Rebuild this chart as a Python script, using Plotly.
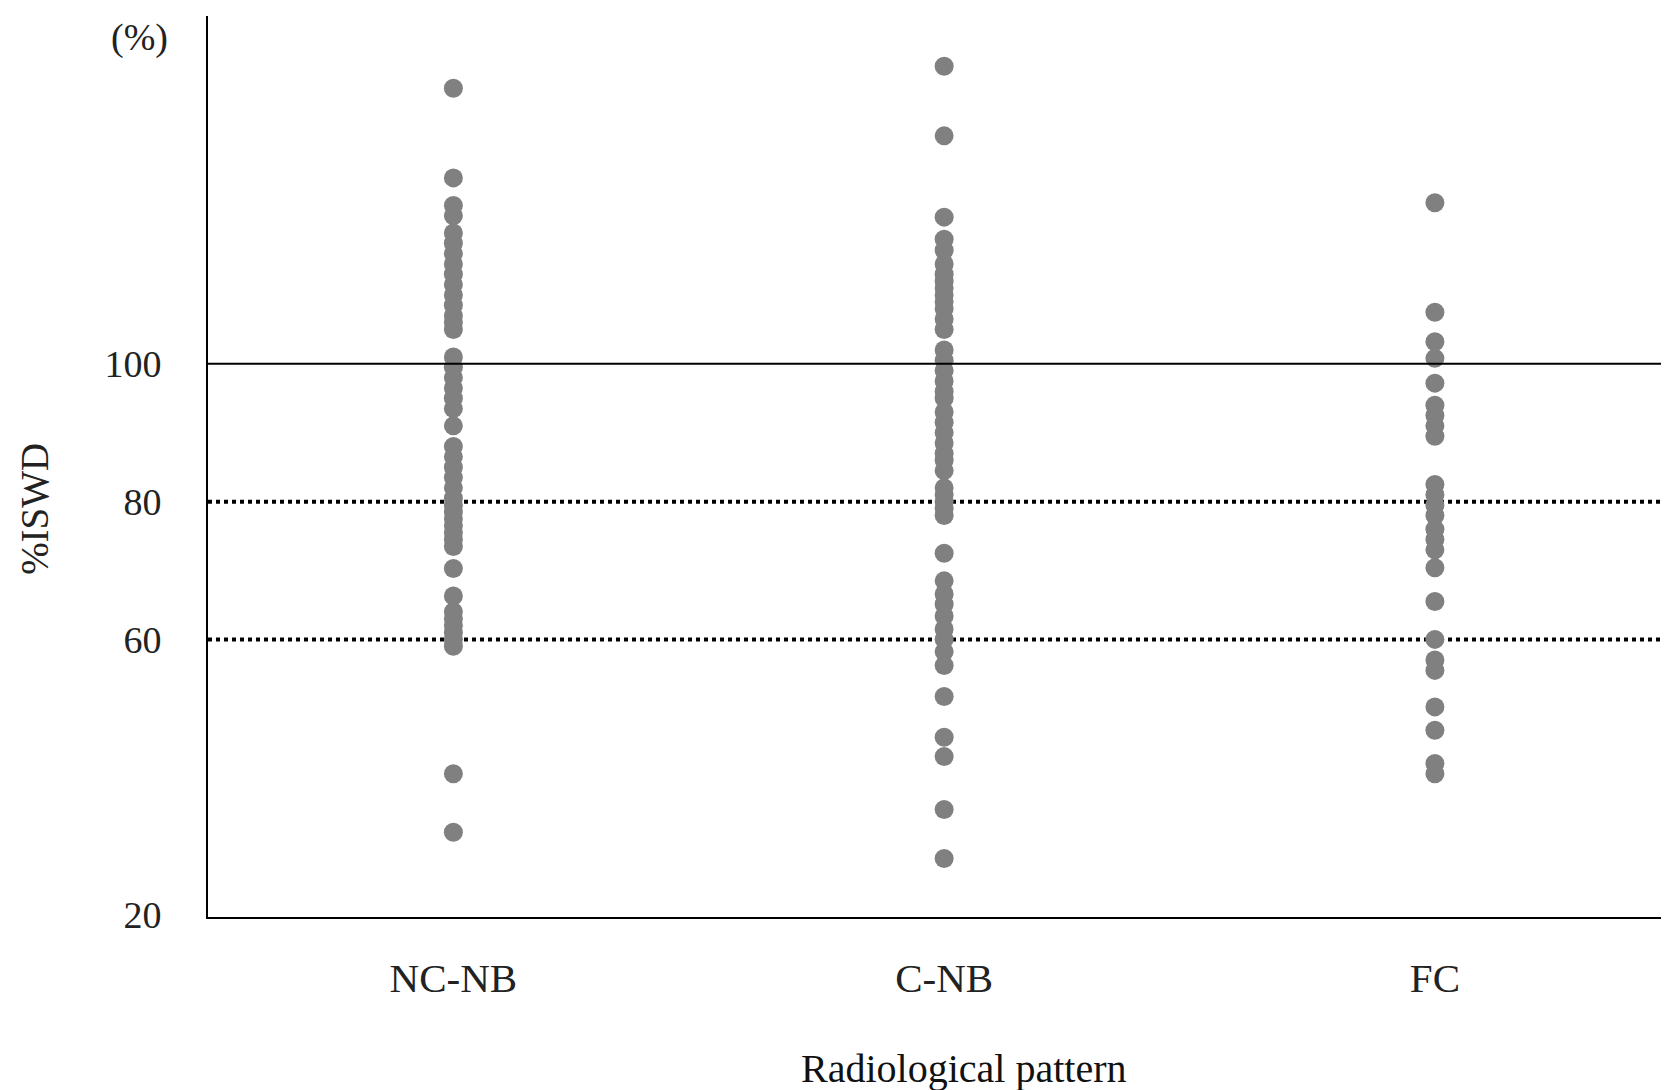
import plotly.graph_objects as go

categories = ["NC-NB", "C-NB", "FC"]

nc_nb = [140, 127, 123, 121.5, 119, 117.5, 116, 114.5, 113, 111.5, 110, 108.5, 107,
         106, 105, 101, 99.5, 98, 96.5, 95, 93.5, 91, 88, 86.5, 85, 83.5, 82, 80.5,
         79.5, 78.5, 77.5, 76.5, 75.5, 74.5, 73.5, 70.3, 66.3, 64, 63, 62, 61, 60, 59,
         40.5, 32]
c_nb = [143.2, 133.1, 121.3, 118.1, 116.5, 114.5, 113, 112, 111, 110, 109, 108, 106.5,
        105, 102, 100.5, 99, 97.5, 96, 95, 93, 91.5, 90, 88.5, 87, 86, 84.5, 82, 81,
        80, 79, 78, 72.5, 68.5, 66.6, 65.1, 63.4, 61.5, 60, 58.2, 56.2, 51.7, 45.8,
        43, 35.3, 28.2]
fc = [123.4, 107.5, 103.2, 100.8, 97.2, 94, 92.5, 91, 89.5, 82.5, 81, 79.5, 78, 76,
      74.5, 73, 70.4, 65.5, 60, 57, 55.5, 50.2, 46.8, 42, 40.5]

y_ticks = [20, 60, 80, 100]
solid_ref = [100]
dotted_ref = [80, 60]

SERIF = "Liberation Serif"
fig = go.Figure()
for cat, vals in zip(categories, [nc_nb, c_nb, fc]):
    fig.add_trace(go.Scatter(
        x=[cat] * len(vals), y=vals, mode="markers",
        marker=dict(color="#808080", size=19, line=dict(width=0)),
        showlegend=False,
    ))

for v in dotted_ref:
    fig.add_shape(type="line", xref="paper", x0=0, x1=1, yref="y", y0=v, y1=v,
                  line=dict(color="black", width=4, dash="dot"), layer="below")
for v in solid_ref:
    fig.add_shape(type="line", xref="paper", x0=0, x1=1, yref="y", y0=v, y1=v,
                  line=dict(color="black", width=2), layer="above")

fig.update_layout(
    width=1661, height=1082,
    margin=dict(l=200, r=0, t=8, b=173),
    plot_bgcolor="white", paper_bgcolor="white",
    font=dict(family=SERIF, color="#222222", size=37),
    xaxis=dict(type="category", categoryorder="array", categoryarray=categories,
               range=[-0.5, 2.477], showline=True, linecolor="black", linewidth=2,
               showgrid=False, zeroline=False, ticks="", ticklabelstandoff=24,
               tickfont=dict(size=41, family=SERIF, color="#222222")),
    yaxis=dict(range=[19.7, 150.5], tickvals=y_ticks, ticktext=[str(t) for t in y_ticks],
               showline=True, linecolor="black", linewidth=2, showgrid=False,
               zeroline=False, ticks="", ticklabelstandoff=37,
               tickfont=dict(size=38, family=SERIF, color="#222222")),
    annotations=[
        dict(text="(%)", xref="paper", yref="paper", x=-0.026, y=0.976,
             xanchor="right", yanchor="middle", showarrow=False,
             font=dict(size=38, family=SERIF, color="#222222")),
        dict(text="%ISWD", xref="paper", yref="paper", x=-0.1184, y=0.453,
             xanchor="center", yanchor="middle", showarrow=False, textangle=-90,
             font=dict(size=39, family=SERIF, color="#222222")),
        dict(text="Radiological pattern", xref="paper", yref="paper", x=0.517, y=-0.1676,
             xanchor="center", yanchor="middle", showarrow=False,
             font=dict(size=40, family=SERIF, color="#111111")),
    ],
)

fig.write_html("out.html")
